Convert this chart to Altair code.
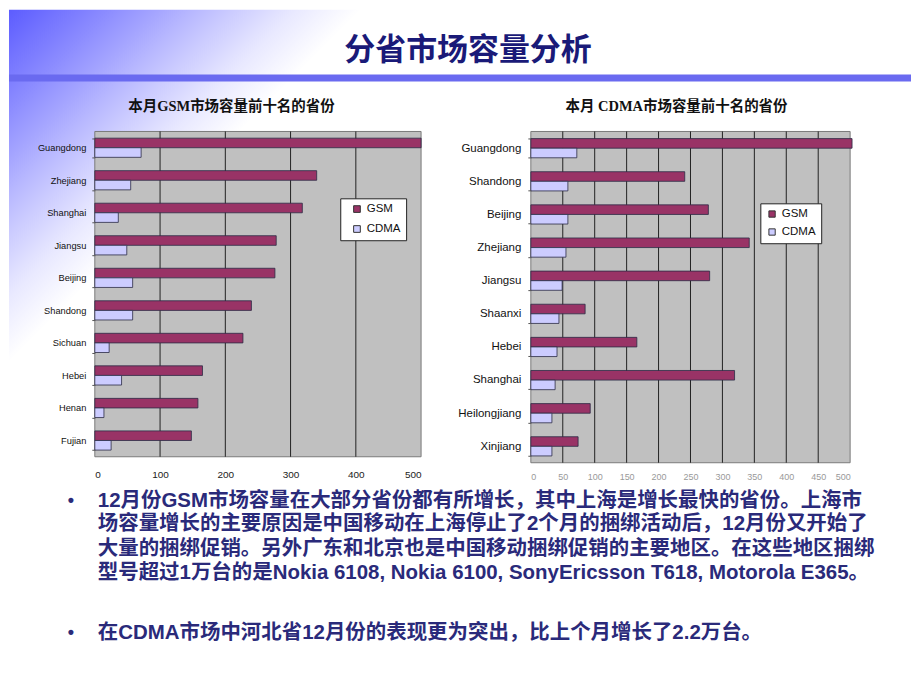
import altair as alt
import pandas as pd

# ---------------- data ----------------
series = ["GSM", "CDMA"]
colors = ["#993366", "#ccccff"]

left_title = "本月GSM市场容量前十名的省份"
left_provinces = ["Guangdong", "Zhejiang", "Shanghai", "Jiangsu", "Beijing",
                  "Shandong", "Sichuan", "Hebei", "Henan", "Fujian"]
left_gsm = [500, 340, 318, 278, 276, 240, 227, 165, 158, 148]
left_cdma = [71, 55, 36, 49, 58, 58, 22, 41, 14, 25]
left_ticks = [0, 100, 200, 300, 400, 500]
left_grid = [100, 200, 300, 400]

right_title = "本月 CDMA市场容量前十名的省份"
right_provinces = ["Guangdong", "Shandong", "Beijing", "Zhejiang", "Jiangsu",
                   "Shaanxi", "Hebei", "Shanghai", "Heilongjiang", "Xinjiang"]
right_gsm = [503, 241, 278, 342, 280, 85, 166, 319, 93, 74]
right_cdma = [72, 58, 58, 55, 49, 44, 41, 38, 33, 33]
right_ticks = [0, 50, 100, 150, 200, 250, 300, 350, 400, 450, 500]
right_grid = [50, 100, 150, 200, 250, 300, 350, 400, 450]

page_title = "分省市场容量分析"
bullet_1 = [
    "12月份GSM市场容量在大部分省份都有所增长，其中上海是增长最快的省份。上海市",
    "场容量增长的主要原因是中国移动在上海停止了2个月的捆绑活动后，12月份又开始了",
    "大量的捆绑促销。另外广东和北京也是中国移动捆绑促销的主要地区。在这些地区捆绑",
    "型号超过1万台的是Nokia 6108, Nokia 6100, SonyEricsson T618, Motorola E365。",
]
bullet_2 = "在CDMA市场中河北省12月份的表现更为突出，比上个月增长了2.2万台。"

# ---------------- helpers ----------------
SANS = "Liberation Sans, Noto Sans CJK SC"
SERIF = "Liberation Serif, Noto Sans CJK SC"
TEXT_COLOR = "#2a2a7a"
one = pd.DataFrame({"k": [0]})


def long_df(provs, gsm, cdma):
    rows = []
    for p, g, c in zip(provs, gsm, cdma):
        rows.append({"prov": p, "series": "GSM", "value": g})
        rows.append({"prov": p, "series": "CDMA", "value": c})
    return pd.DataFrame(rows)


def bar_panel(provs, gsm, cdma, ticks, grid, w, h, pad_inner, xaxis_kw,
              yaxis_kw, legend_xy, legend_kw, title, title_x):
    xscale = alt.Scale(domain=[0, 500], nice=False, zero=True)
    xaxis = alt.Axis(values=ticks, grid=False, domain=False, ticks=False,
                     title=None, labelFont=SANS, zindex=1, **xaxis_kw)
    ttl = alt.Chart(one).mark_text(
        text=title, font=SERIF, fontSize=14.5, fontWeight="bold",
        color="#111111", align="center", baseline="middle").encode(
        x=alt.value(title_x), y=alt.value(-25))
    plot_bg = alt.Chart(one).mark_rect(fill="#c0c0c0", stroke="#7a7a7a",
                                        strokeWidth=1).encode(
        x=alt.value(0), x2=alt.value(w), y=alt.value(0), y2=alt.value(h))
    rules = alt.Chart(pd.DataFrame({"v": grid})).mark_rule(
        color="#222222", strokeWidth=1).encode(
        x=alt.X("v:Q", scale=xscale, axis=xaxis),
        y=alt.value(0), y2=alt.value(h))
    bars = alt.Chart(long_df(provs, gsm, cdma)).mark_bar(
        stroke="#2b2b45", strokeWidth=0.8, clip=False).encode(
        x=alt.X("value:Q", scale=xscale, axis=xaxis),
        y=alt.Y("prov:N", sort=provs,
                scale=alt.Scale(paddingInner=pad_inner,
                                paddingOuter=pad_inner / 2),
                axis=alt.Axis(title=None, domain=False, ticks=True,
                              tickBand="extent", tickSize=3,
                              tickColor="#555555", labelFont=SANS,
                              labelColor="#111111", zindex=1, **yaxis_kw)),
        yOffset=alt.YOffset("series:N", sort=series),
        color=alt.Color("series:N",
                        scale=alt.Scale(domain=series, range=colors),
                        legend=alt.Legend(orient="none", legendX=legend_xy[0],
                                          legendY=legend_xy[1], title=None,
                                          fillColor="white",
                                          strokeColor="#222222",
                                          symbolType="square",
                                          symbolStrokeColor="#333333",
                                          symbolStrokeWidth=1,
                                          labelFont=SANS, labelColor="#111111",
                                          zindex=1, **legend_kw)),
    )
    return [ttl, plot_bg, rules, bars]


# ---------------- left panel (also carries the slide decoration) -----------
LW, LH = 327, 326
OX, OY = -86, -122          # slide origin relative to the left plot
SW, SH = 904, 674

decor = []
decor.append(alt.Chart(one).mark_rect(fill="white").encode(
    x=alt.value(OX), x2=alt.value(OX + SW), y=alt.value(OY), y2=alt.value(OY + SH)))
decor.append(alt.Chart(one).mark_rect(
    fill=alt.LinearGradient(
        gradient="linear", x1=0, y1=0, x2=1, y2=1,
        stops=[alt.GradientStop(color="#5c5cff", offset=0),
               alt.GradientStop(color="#8c8cff", offset=0.12),
               alt.GradientStop(color="#c4c4ff", offset=0.25),
               alt.GradientStop(color="#e8e8ff", offset=0.34),
               alt.GradientStop(color="#ffffff", offset=0.42),
               alt.GradientStop(color="#ffffff", offset=1)])).encode(
    x=alt.value(OX), x2=alt.value(OX + 420), y=alt.value(OY), y2=alt.value(OY + 420)))
decor.append(alt.Chart(one).mark_rect(fill="#6a6af0").encode(
    x=alt.value(OX), x2=alt.value(OX + SW), y=alt.value(-57), y2=alt.value(-50)))
decor.append(alt.Chart(one).mark_text(
    text=page_title, font="Noto Sans CJK SC", fontSize=31, fontWeight="bold",
    color="#1a1a78", align="center", baseline="middle").encode(
    x=alt.value(374), y=alt.value(-81)))

line_ys = [370, 393, 418, 443]
for txt, yy in zip(bullet_1, line_ys):
    decor.append(alt.Chart(one).mark_text(
        text=txt, font=SANS, fontSize=20.5, fontWeight="bold",
        color=TEXT_COLOR, align="left", baseline="middle").encode(
        x=alt.value(3), y=alt.value(yy)))
decor.append(alt.Chart(one).mark_text(
    text=bullet_2, font=SANS, fontSize=20.5, fontWeight="bold",
    color=TEXT_COLOR, align="left", baseline="middle").encode(
    x=alt.value(3), y=alt.value(503)))
for yy in [370, 503]:
    decor.append(alt.Chart(one).mark_text(
        text="•", font=SANS, fontSize=18, fontWeight="bold",
        color=TEXT_COLOR, align="center", baseline="middle").encode(
        x=alt.value(-24), y=alt.value(yy)))

left_layers = bar_panel(
    left_provinces, left_gsm, left_cdma, left_ticks, left_grid, LW, LH, 0.41,
    dict(labelFontSize=10, labelColor="#222222", labelPadding=13),
    dict(labelFontSize=9.3, labelPadding=6),
    (246, 67),
    dict(padding=5, symbolSize=45, symbolOffset=6, labelFontSize=11.5,
         rowPadding=7),
    left_title, 137)

left = alt.layer(*decor, *left_layers).properties(width=LW, height=LH)

# ---------------- right panel ----------------
RW, RH = 320, 332
right_layers = bar_panel(
    right_provinces, right_gsm, right_cdma, right_ticks, right_grid, RW, RH,
    0.43,
    dict(labelFontSize=9, labelColor="#999999", labelPadding=10),
    dict(labelFontSize=11.5, labelPadding=7),
    (230, 72),
    dict(padding=5, symbolSize=40, symbolOffset=1, labelFontSize=11.5,
         rowPadding=5),
    right_title, 146)

right = alt.layer(*right_layers).properties(width=RW, height=RH)

chart = alt.hconcat(left, right, spacing=110, bounds="flush").resolve_scale(
    color="independent").properties(padding=0).configure_view(
    stroke="transparent")

chart.save("out.html", embed_options={"renderer": "svg", "actions": False})
